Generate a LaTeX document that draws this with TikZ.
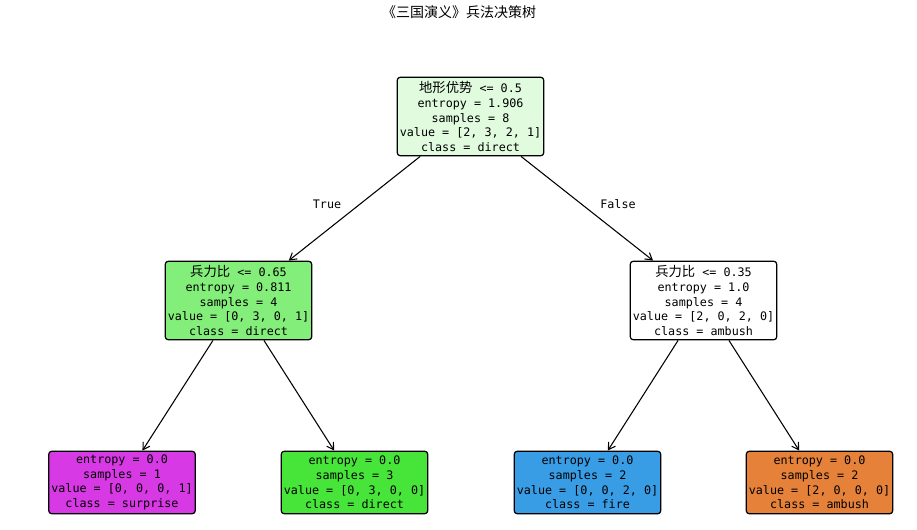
\documentclass[tikz,border=0pt]{standalone}
\usepackage{fontspec}
\setmainfont{DejaVu Sans Mono}
\newfontfamily\cjk{Noto Sans CJK SC}
\usetikzlibrary{arrows.meta}
\definecolor{rootfill}{RGB}{224,251,222}
\definecolor{directmid}{RGB}{132,238,123}
\definecolor{surprisefill}{RGB}{215,57,229}
\definecolor{directfill}{RGB}{71,229,57}
\definecolor{firefill}{RGB}{57,157,229}
\definecolor{ambushfill}{RGB}{229,129,57}
\newcommand{\zh}[1]{{\cjk\fontsize{10}{10.9}\selectfont #1}}
\begin{document}
\begin{tikzpicture}[x=0.75pt,y=-0.75pt,
    treenode/.style={draw=black, line width=0.9pt, rounded corners=2.5pt, align=center,
      font=\fontsize{8.8}{10.9}\selectfont, minimum width=110pt, inner sep=1pt},
    split/.style={treenode, minimum height=59pt},
    leaf/.style={treenode, minimum height=47pt},
    edge/.style={line width=0.8pt, -{Straight Barb[length=5pt,width=6pt]}},
    lbl/.style={font=\fontsize{8.8}{10.9}\selectfont}]
    \useasboundingbox (0,0) rectangle (917,530);
    \node (title) at (459,12) {\cjk\fontsize{10.5}{12}\selectfont 《三国演义》兵法决策树};
    \node[split, fill=rootfill] (root) at (470.5,116.5)
        {\zh{地形优势} <= 0.5\\entropy = 1.906\\samples = 8\\value = [2, 3, 2, 1]\\class = direct};
    \node[split, fill=directmid] (left) at (238.5,300.5)
        {\zh{兵力比} <= 0.65\\entropy = 0.811\\samples = 4\\value = [0, 3, 0, 1]\\class = direct};
    \node[split, fill=white] (right) at (703.5,300.5)
        {\zh{兵力比} <= 0.35\\entropy = 1.0\\samples = 4\\value = [2, 0, 2, 0]\\class = ambush};
    \node[leaf, fill=surprisefill] (ll) at (122,482.5)
        {entropy = 0.0\\samples = 1\\value = [0, 0, 0, 1]\\class = surprise};
    \node[leaf, fill=directfill] (lr) at (354.5,482.5)
        {entropy = 0.0\\samples = 3\\value = [0, 3, 0, 0]\\class = direct};
    \node[leaf, fill=firefill] (rl) at (587.5,482.5)
        {entropy = 0.0\\samples = 2\\value = [0, 0, 2, 0]\\class = fire};
    \node[leaf, fill=ambushfill] (rr) at (819.5,482.5)
        {entropy = 0.0\\samples = 2\\value = [2, 0, 0, 0]\\class = ambush};
    \foreach \a/\b in {root/left, root/right, left/ll, left/lr, right/rl, right/rr}
        \draw[edge] (\a) -- (\b);
    \node[lbl] (truelbl) at (327,204) {True};
    \node[lbl] (falselbl) at (618,204) {False};
\end{tikzpicture}
\end{document}
